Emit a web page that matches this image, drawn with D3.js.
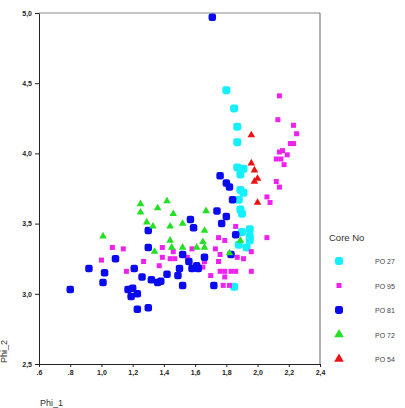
<!DOCTYPE html>
<html>
<head>
<meta charset="utf-8">
<script src="https://cdn.jsdelivr.net/npm/d3@7"></script>
<style>
  body { margin: 0; background: #fff; }
  svg { font-family: "Liberation Sans", Arial, sans-serif; }
  .axis path, .axis line { stroke: #222; }
  .axis text { font-size: 7px; fill: #222; font-weight: bold; }
</style>
</head>
<body>
<div class="chart"></div>
<script>
// data: [Phi_1, Phi_2]
var po27 = [[1.80,4.45],[1.85,4.32],[1.87,4.19],[1.87,4.08],[1.87,3.90],[1.91,3.89],[1.89,3.85],
  [1.89,3.74],[1.91,3.72],[1.88,3.67],[1.89,3.60],[1.90,3.57],[1.90,3.44],[1.95,3.46],[1.95,3.41],
  [1.95,3.38],[1.88,3.35],[1.93,3.33],[1.85,3.05]];
var po95 = [[2.14,4.41],[2.13,4.24],[2.23,4.20],[2.25,4.14],[2.21,4.07],[2.23,4.07],[2.14,4.01],
  [2.16,4.02],[2.19,3.99],[2.12,3.96],[2.15,3.96],[2.17,3.92],[2.12,3.80],[2.14,3.76],[2.06,3.69],
  [2.08,3.65],[1.86,3.48],[2.06,3.40],[1.75,3.40],[1.79,3.38],[1.96,3.30],[1.73,3.32],[1.76,3.28],
  [1.75,3.23],[1.87,3.26],[1.91,3.25],[1.39,3.33],[1.46,3.30],[1.39,3.26],[1.44,3.25],[1.47,3.25],
  [1.55,3.26],[1.58,3.32],[1.65,3.19],[1.66,3.23],[1.70,3.13],[1.76,3.16],[1.79,3.16],[1.83,3.16],
  [1.86,3.16],[1.96,3.16],[1.79,3.12],[1.78,3.06],[1.82,3.06],[1.07,3.33],[1.14,3.32],[1.00,3.24],
  [1.27,3.23],[1.16,3.16],[1.37,3.20]];
var po81 = [[1.71,4.97],[1.76,3.84],[1.80,3.79],[1.82,3.76],[1.84,3.67],[1.74,3.59],[1.80,3.55],
  [1.57,3.53],[1.77,3.50],[1.59,3.47],[1.86,3.42],[1.30,3.45],[1.30,3.33],[1.52,3.28],[1.66,3.26],
  [1.83,3.28],[1.56,3.23],[1.50,3.18],[1.58,3.18],[1.61,3.20],[1.62,3.18],[1.42,3.14],[1.49,3.13],
  [1.38,3.09],[1.52,3.06],[1.72,3.06],[1.09,3.25],[0.92,3.18],[1.02,3.15],[1.01,3.08],[1.21,3.18],
  [1.26,3.12],[1.32,3.10],[1.36,3.08],[1.17,3.03],[1.20,3.04],[1.19,2.98],[1.23,3.00],[1.23,2.89],
  [1.30,2.90],[0.80,3.03]];
var po72 = [[1.25,3.64],[1.36,3.61],[1.42,3.66],[1.25,3.58],[1.46,3.57],[1.67,3.59],[1.29,3.51],
  [1.33,3.48],[1.44,3.48],[1.52,3.50],[1.66,3.45],[1.44,3.38],[1.45,3.33],[1.52,3.33],[1.65,3.37],
  [1.61,3.33],[1.66,3.33],[1.34,3.30],[1.82,3.29],[1.89,3.38],[1.01,3.41]];
var po54 = [[1.96,4.13],[1.96,3.93],[1.98,3.88],[2.00,3.82],[1.98,3.80],[2.00,3.65]];

var coreNames = ["PO 27", "PO 95", "PO 81", "PO 72", "PO 54"];
var xTicks = [0.6, 0.8, 1.0, 1.2, 1.4, 1.6, 1.8, 2.0, 2.2, 2.4];
var yTicks = [2.5, 3.0, 3.5, 4.0, 4.5, 5.0];

// set the dimensions and margins of the graph
var margin = {top: 13, right: 85, bottom: 44, left: 39},
    width = 405 - margin.left - margin.right,
    height = 408 - margin.top - margin.bottom;

// set the ranges
var x = d3.scaleLinear().domain([0.6, 2.4]).range([0, width]);
var y = d3.scaleLinear().domain([2.5, 5.0]).range([height, 0]);

// marker look per core
var styles = [
  {data: po27, color: "#14f0ff", kind: "round", size: 8},
  {data: po95, color: "#ee22ee", kind: "square", size: 5},
  {data: po81, color: "#0a0af0", kind: "round", size: 7.5},
  {data: po72, color: "#22e022", kind: "tri", size: 25},
  {data: po54, color: "#ee1111", kind: "tri", size: 25}
];

var fmt = function(d) {
  var s = d3.format(".1f")(d);
  if (s.charAt(0) === "0") s = s.slice(1);
  return s.indexOf(".") === 0 ? s : s.replace(".", ",");
};

var svg = d3.select(".chart").append("svg")
    .attr("width", 405)
    .attr("height", 408);

var chart = svg.append("g")
    .attr("transform", "translate(" + margin.left + "," + margin.top + ")");

// frame top and right
chart.append("line")
    .attr("x1", 0).attr("x2", width).attr("y1", 0).attr("y2", 0)
    .style("stroke", "#888");
chart.append("line")
    .attr("x1", width).attr("x2", width).attr("y1", 0).attr("y2", height)
    .style("stroke", "#666");

// draw a marker in a group
function drawMarker(g, st) {
  if (st.kind === "tri") {
    g.append("path")
        .attr("d", d3.symbol().type(d3.symbolTriangle).size(st.size))
        .style("fill", st.color);
  } else {
    g.append("rect")
        .attr("x", -st.size / 2).attr("y", -st.size / 2)
        .attr("width", st.size).attr("height", st.size)
        .attr("rx", st.kind === "round" ? st.size * 0.3 : 0)
        .style("fill", st.color);
  }
}

// Add the points
styles.forEach(function(st) {
  chart.append("g").selectAll("g")
      .data(st.data)
    .enter().append("g")
      .attr("transform", function(d) { return "translate(" + x(d[0]) + "," + y(d[1]) + ")"; })
      .each(function() { drawMarker(d3.select(this), st); });
});

// Add the X Axis
chart.append("g")
    .attr("class", "axis")
    .attr("transform", "translate(0," + height + ")")
    .call(d3.axisBottom(x).tickValues(xTicks).tickFormat(fmt).tickSize(3).tickSizeOuter(0));

// Add the Y Axis
chart.append("g")
    .attr("class", "axis")
    .call(d3.axisLeft(y).tickValues(yTicks).tickFormat(fmt).tickSize(4).tickSizeOuter(0));

// axis titles
svg.append("text")
    .attr("x", 40).attr("y", 406)
    .style("font-size", "9px").style("fill", "#333")
    .text("Phi_1");
svg.append("text")
    .attr("transform", "translate(7,363) rotate(-90)")
    .style("font-size", "9px").style("fill", "#333")
    .text("Phi_2");

// legend
var legend = svg.append("g").attr("transform", "translate(329,0)");
legend.append("text")
    .attr("x", 0).attr("y", 241)
    .style("font-size", "9.5px").style("fill", "#333")
    .text("Core No");

coreNames.forEach(function(name, i) {
  var row = legend.append("g")
      .attr("transform", "translate(0," + (261 + i * 24.5) + ")");
  var st = styles[i];
  var mk = row.append("g").attr("transform", "translate(10,0)");
  drawMarker(mk, {color: st.color, kind: st.kind, size: st.kind === "tri" ? 40 : (st.kind === "square" ? 5 : 8)});
  row.append("text")
      .attr("x", 46).attr("y", 3)
      .style("font-size", "7px").style("fill", "#444")
      .text(name);
});
</script>
</body>
</html>
